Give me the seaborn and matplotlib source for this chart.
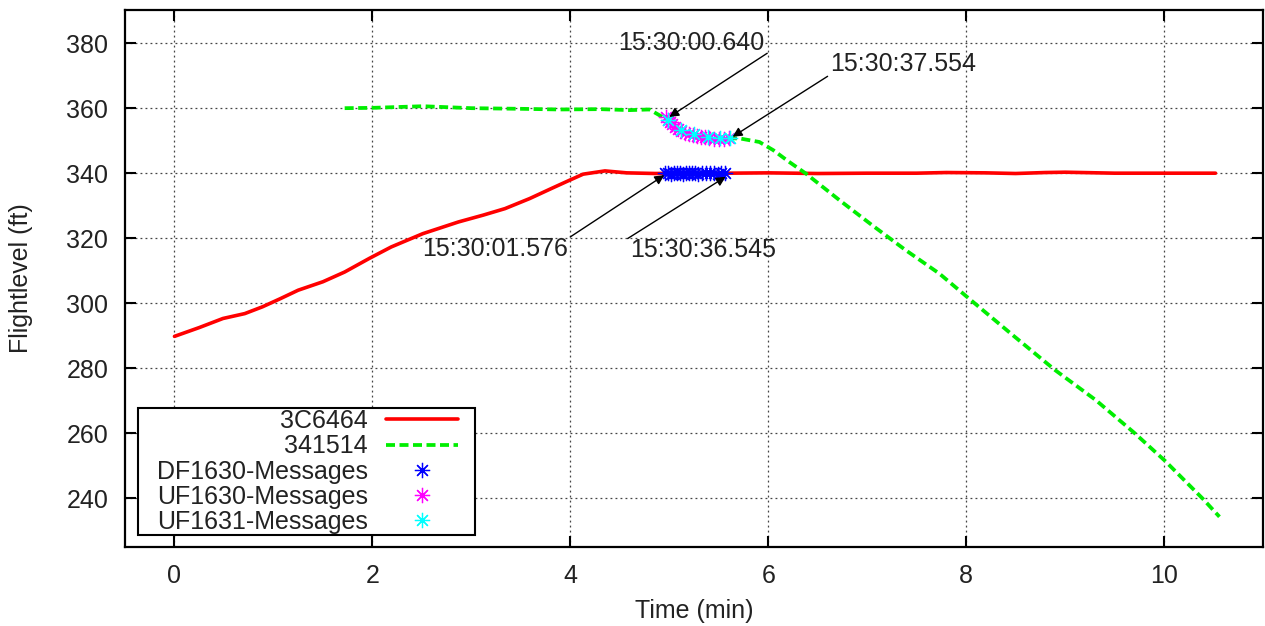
import matplotlib
matplotlib.use("Agg")
import matplotlib.pyplot as plt
from matplotlib.patches import Rectangle
import seaborn as sns

# ---- data ----
red_x = [0, 0.25, 0.49, 0.71, 0.89, 1.07, 1.25, 1.5, 1.72, 1.97, 2.19, 2.51, 2.87, 3.12,
         3.34, 3.59, 3.81, 3.99, 4.13, 4.35, 4.57, 4.86, 5.2, 5.6, 6.0, 6.5, 7.0, 7.5,
         7.8, 8.2, 8.5, 8.8, 9.0, 9.5, 10.0, 10.52]
red_y = [289.8, 292.5, 295.3, 296.8, 298.9, 301.4, 304.0, 306.6, 309.6, 313.8, 317.3,
         321.4, 325.0, 327.1, 329.1, 332.2, 335.3, 337.8, 339.7, 340.7, 340.1, 339.9,
         340.0, 340.0, 340.1, 339.9, 340.0, 340.0, 340.2, 340.1, 339.9, 340.2, 340.3,
         340.0, 340.0, 340.0]

green_x = [1.72, 2.0, 2.51, 3.0, 3.5, 3.89, 4.3, 4.6, 4.8, 4.93, 5.0, 5.1, 5.23, 5.4,
           5.61, 5.71, 5.91, 6.05, 6.21, 6.38, 6.72, 7.05, 7.39, 7.73, 8.03, 8.47, 8.9,
           9.31, 9.70, 10.01, 10.39, 10.56]
green_y = [360.0, 360.1, 360.6, 360.0, 359.8, 359.6, 359.7, 359.4, 359.6, 357.3, 356.3,
           353.2, 351.7, 350.7, 350.7, 350.7, 349.6, 347.1, 343.5, 339.9, 331.7, 324.0,
           316.3, 309.1, 301.4, 290.2, 279.4, 270.2, 260.1, 251.5, 239.9, 234.3]

df_x = [4.96, 4.99, 5.02, 5.05, 5.08, 5.11, 5.14, 5.17, 5.20, 5.23, 5.26, 5.29, 5.33,
        5.37, 5.41, 5.45, 5.49, 5.52, 5.56]
df_y = [340.0, 340.1, 339.9, 340.0, 340.1, 340.0, 339.9, 340.0, 340.1, 340.0, 340.0,
        339.9, 340.0, 340.1, 340.0, 340.0, 339.9, 340.0, 340.0]

uf0_x = [4.97, 4.99, 5.01, 5.03, 5.06, 5.09, 5.12, 5.16, 5.20, 5.24, 5.28, 5.32, 5.36,
         5.40, 5.45, 5.50, 5.55, 5.60]
uf0_y = [357.2, 356.5, 355.7, 355.0, 354.2, 353.5, 353.0, 352.4, 352.0, 351.7, 351.4,
         351.2, 351.0, 350.8, 350.6, 350.5, 350.6, 350.7]

uf1_x = [4.99, 5.12, 5.25, 5.39, 5.51, 5.61]
uf1_y = [356.3, 353.4, 352.2, 351.2, 350.9, 350.7]

labels = ["3C6464", "341514", "DF1630-Messages", "UF1630-Messages", "UF1631-Messages"]
x_ticks = [0, 2, 4, 6, 8, 10]
y_ticks = [240, 260, 280, 300, 320, 340, 360, 380]

annot_texts = ["15:30:00.640", "15:30:37.554", "15:30:01.576", "15:30:36.545"]
annot_text_pos = [(5.22, 380.0), (7.36, 373.5), (3.24, 316.6), (5.34, 316.3)]
annot_arrow_start = [(5.99, 376.9), (6.60, 369.8), (4.00, 320.4), (4.58, 319.9)]
annot_arrow_end = [(5.00, 357.3), (5.64, 351.2), (4.95, 339.4), (5.57, 338.9)]

# ---- style ----
sns.set_theme(style="ticks")
plt.rcParams["font.family"] = ["Liberation Sans", "DejaVu Sans"]
plt.rcParams["font.size"] = 18

fig = plt.figure(figsize=(12.65, 6.26), dpi=100)
ax = fig.add_axes([125 / 1265, 79 / 626, 1138 / 1265, 537 / 626])

sns.lineplot(x=red_x, y=red_y, ax=ax, color="#ff0000", lw=2.6, label=labels[0],
             estimator=None, sort=False)
sns.lineplot(x=green_x, y=green_y, ax=ax, color="#00ee00", lw=2.7, label=labels[1],
             estimator=None, sort=False, linestyle=(0, (2.4, 1.2)))
mk = (8, 2, 0)
for xs, ys, col, lab in [(df_x, df_y, "#0000ff", labels[2]),
                         (uf0_x, uf0_y, "#ff00ff", labels[3]),
                         (uf1_x, uf1_y, "#00ffff", labels[4])]:
    sns.lineplot(x=xs, y=ys, ax=ax, color=col, linestyle="", marker=mk,
                 markersize=11, markeredgewidth=0.9, markeredgecolor=col,
                 markerfacecolor=col, label=lab, estimator=None, sort=False)

ax.set_xlim(-0.5, 11)
ax.set_ylim(225, 390.2)
ax.set_xticks(x_ticks)
ax.set_yticks(y_ticks)
ax.set_xticklabels([str(t) for t in x_ticks])
ax.set_yticklabels([str(t) for t in y_ticks])
ax.tick_params(axis="both", direction="in", length=8, width=1.5, labelsize=18,
               top=True, right=True, color="black", labelcolor="#222222")
ax.tick_params(axis="y", pad=12)
ax.tick_params(axis="x", pad=12)
for s in ax.spines.values():
    s.set_visible(True)
    s.set_color("black")
    s.set_linewidth(1.6)
ax.grid(True, color="#444444", linestyle=(0, (1.5, 2.5)), linewidth=0.9)
ax.set_axisbelow(True)

ax.set_xlabel("Time (min)", fontsize=18, labelpad=8, color="#222222")
ax.set_ylabel("Flightlevel (ft)", fontsize=18, labelpad=24, color="#222222")

for t, p, a0, a1 in zip(annot_texts, annot_text_pos, annot_arrow_start, annot_arrow_end):
    ax.text(p[0], p[1], t, ha="center", va="center", fontsize=18, color="#222222",
            zorder=6)
    ax.annotate("", xy=a1, xytext=a0,
                arrowprops=dict(arrowstyle="-|>", color="black", lw=1.0,
                                shrinkA=0, shrinkB=0, mutation_scale=14),
                zorder=6)

# legend box (frame drawn separately to match the reference padding)
ax.add_patch(Rectangle((13 / 1138, 12 / 537), 337 / 1138, 127 / 537,
                       transform=ax.transAxes, facecolor="white", edgecolor="black",
                       linewidth=1.5, zorder=4.5))
handles, labs = ax.get_legend_handles_labels()
leg = ax.legend(handles, labs, loc="upper right", bbox_to_anchor=(333 / 1138, 138 / 537),
                borderaxespad=0, markerfirst=False, frameon=False, fontsize=18,
                handlelength=2.9, handletextpad=0.7, borderpad=0.0, labelspacing=0.05)
leg.set_zorder(5)
for t in leg.get_texts():
    t.set_color("#222222")

fig.savefig("out.png", dpi=100)
